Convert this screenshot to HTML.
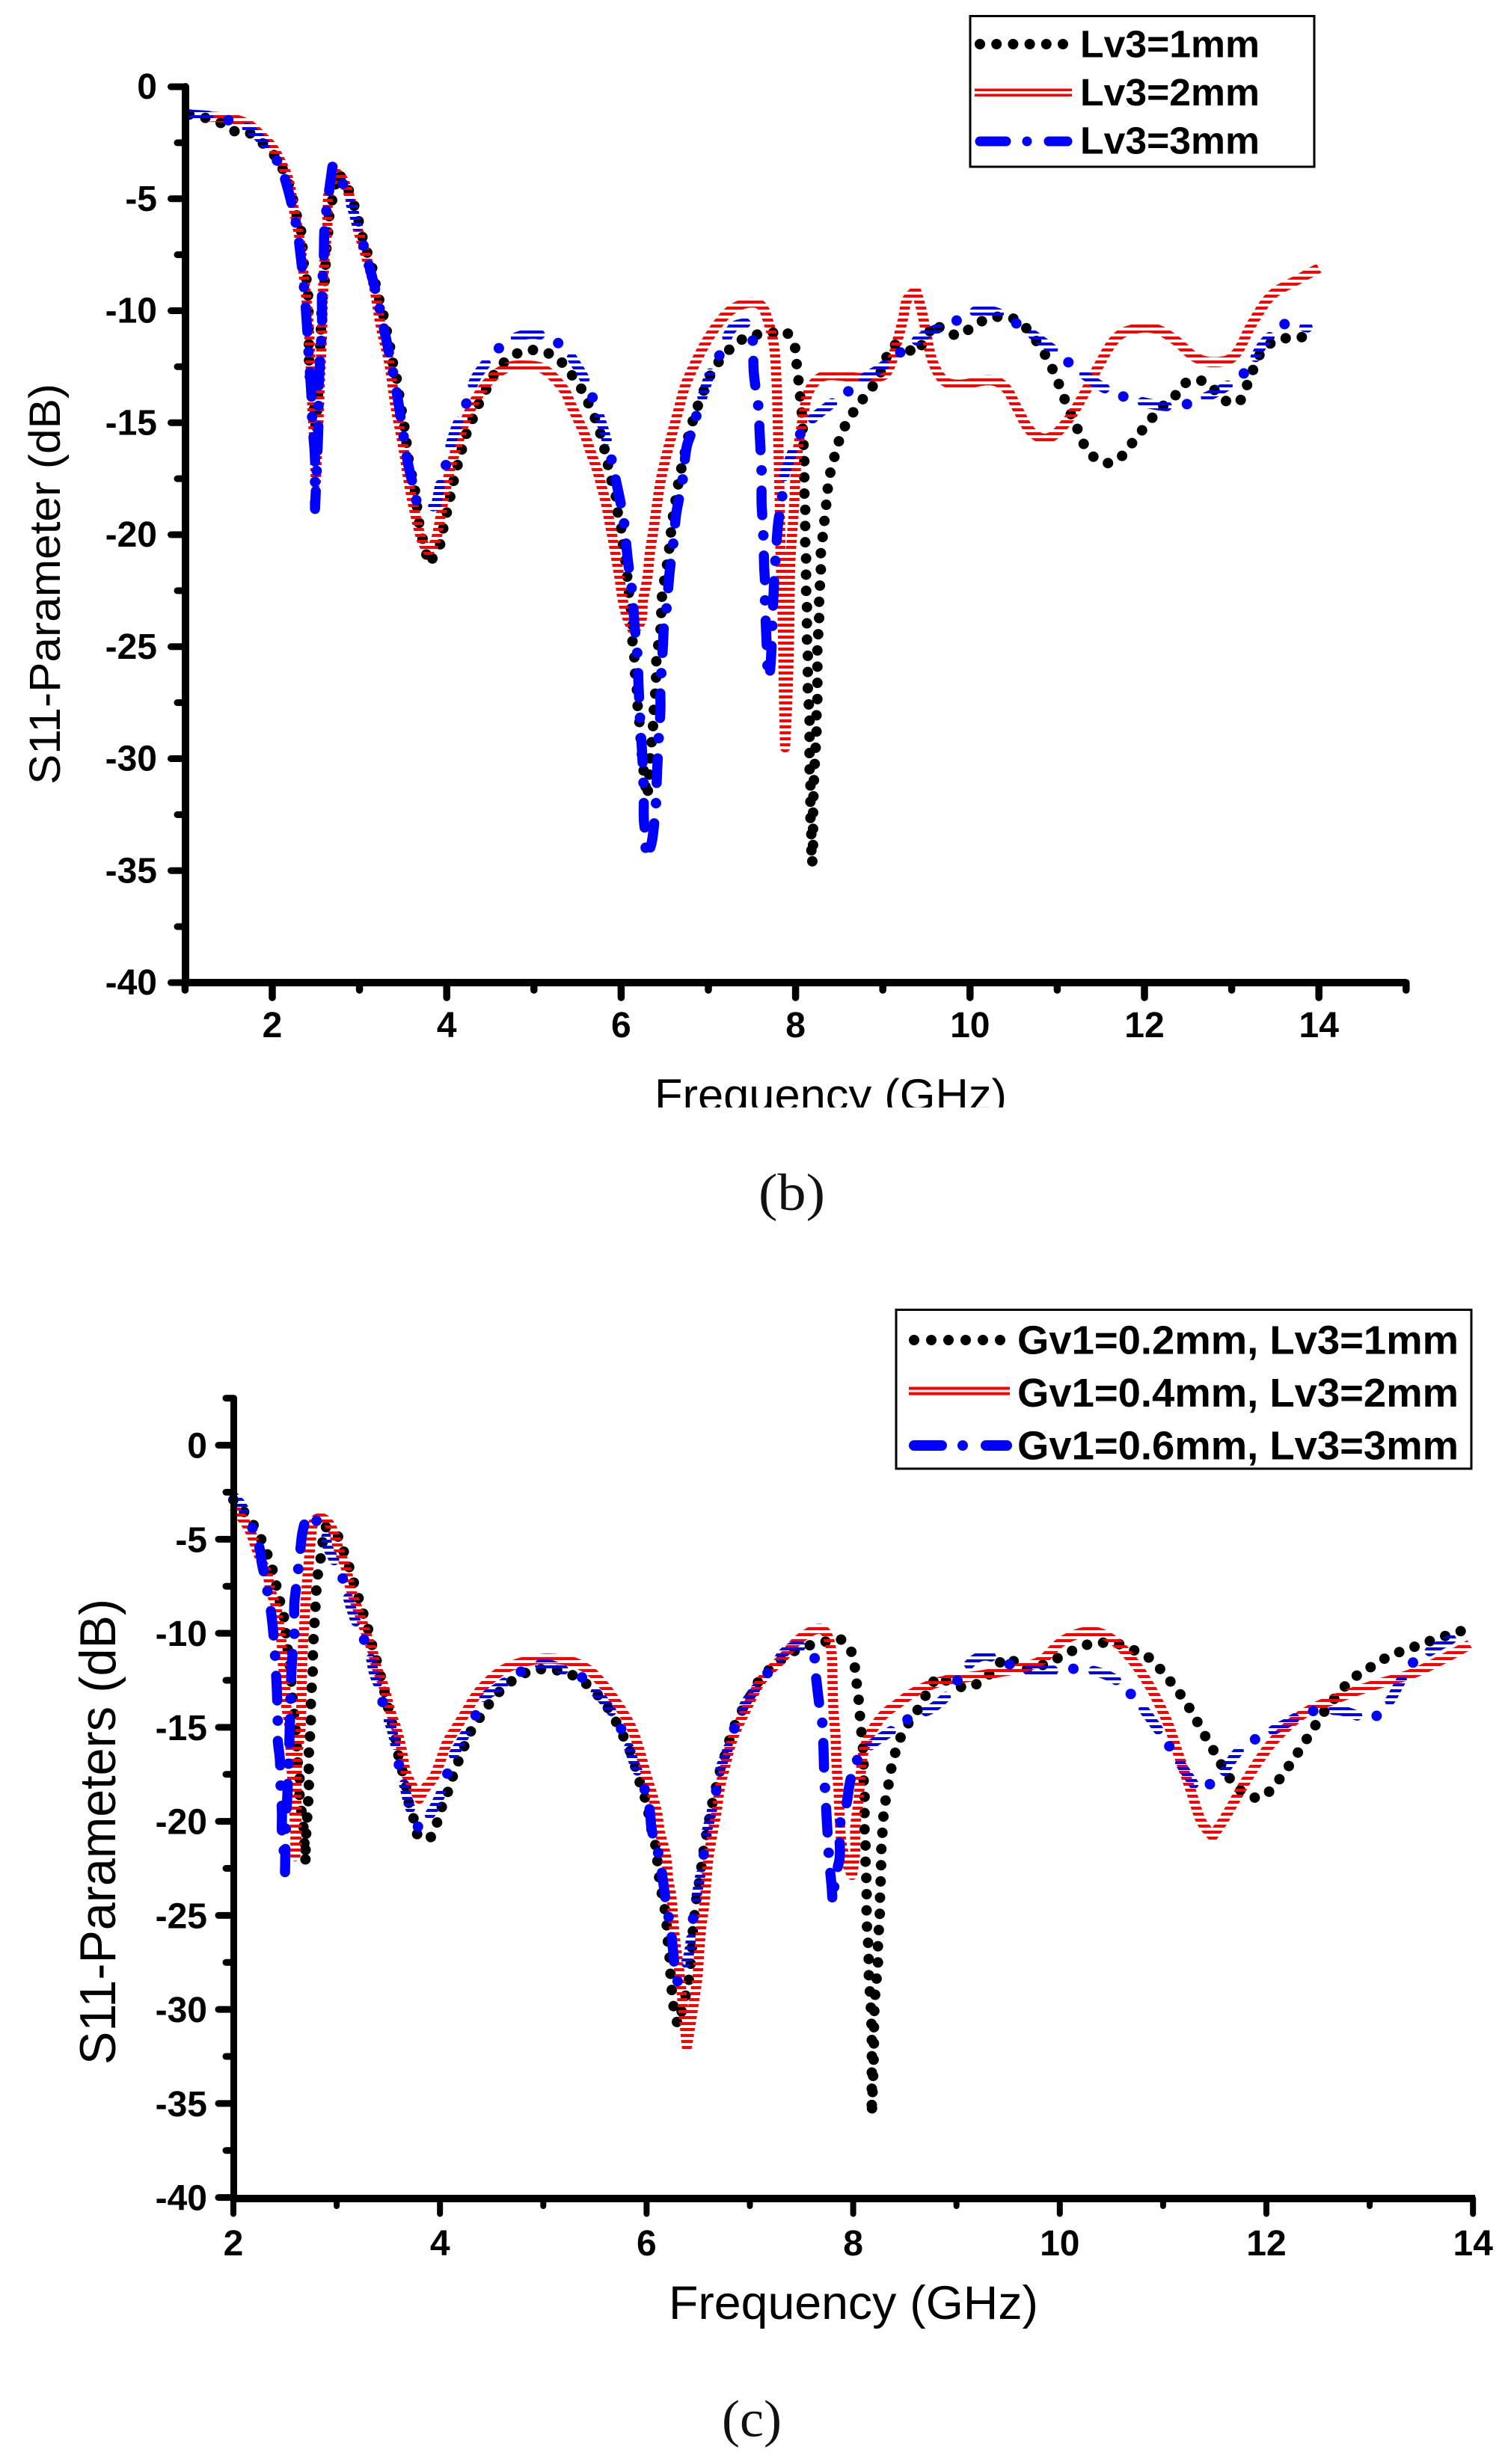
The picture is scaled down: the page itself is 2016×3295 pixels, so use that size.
<!DOCTYPE html>
<html lang="en">
<head>
<meta charset="utf-8">
<title>S11 parameter charts</title>
<style>
html,body{margin:0;padding:0;background:#fff}
svg{display:block}
text{font-family:"Liberation Sans",sans-serif;fill:#000}
.tick-label{font-weight:700;font-size:48px}
.legend-label{font-weight:700}
.caption{font-family:"Liberation Serif",serif;fill:#111}
</style>
</head>
<body>
<svg id="figure" xmlns="http://www.w3.org/2000/svg" width="2016" height="3295" viewBox="0 0 2016 3295">
<defs>
<pattern id="redStripesB" patternUnits="userSpaceOnUse" width="16" height="8"><rect x="0" y="2" width="16" height="4" fill="#ff0000" shape-rendering="crispEdges"/></pattern>
<pattern id="blueStripesB" patternUnits="userSpaceOnUse" width="16" height="8"><rect x="0" y="2" width="16" height="4" fill="#0000ff" shape-rendering="crispEdges"/></pattern>
<pattern id="redStripesC" patternUnits="userSpaceOnUse" width="16" height="8"><rect x="0" y="0" width="16" height="4" fill="#ff0000" shape-rendering="crispEdges"/></pattern>
<pattern id="blueStripesC" patternUnits="userSpaceOnUse" width="16" height="8"><rect x="0" y="3" width="16" height="4" fill="#0000ff" shape-rendering="crispEdges"/></pattern>
<clipPath id="clipFreqB"><rect x="800" y="1400" width="700" height="81"/></clipPath>
</defs>
<g id="chartB"></g>
<g id="chartC"></g>

<text transform="translate(80,781) rotate(-90)" text-anchor="middle" font-size="58" textLength="536" lengthAdjust="spacingAndGlyphs">S11-Parameter (dB)</text>
<g clip-path="url(#clipFreqB)">
<text x="875" y="1485" font-size="60" textLength="471" lengthAdjust="spacingAndGlyphs">Frequency (GHz)</text>
</g>
<text class="caption" x="1014" y="1618" font-size="70" textLength="89" lengthAdjust="spacingAndGlyphs">(b)</text>

<g>
<rect x="1297" y="21.5" width="460" height="201.5" fill="#fff" stroke="#000" stroke-width="3"/>
<line x1="1310" y1="59" x2="1422" y2="59" stroke="#000" stroke-width="14" stroke-linecap="round" stroke-dasharray="0.01 22.19"/>
<rect x="1303" y="118.5" width="130" height="3.5" fill="#f00"/>
<rect x="1303" y="125.5" width="130" height="3.5" fill="#f00"/>
<line x1="1310" y1="189" x2="1345" y2="189" stroke="#00f" stroke-width="13" stroke-linecap="round"/>
<circle cx="1373" cy="189" r="6.5" fill="#00f"/>
<line x1="1402" y1="189" x2="1427" y2="189" stroke="#00f" stroke-width="13" stroke-linecap="round"/>
<text class="legend-label" x="1444" y="76.5" font-size="51" textLength="240" lengthAdjust="spacingAndGlyphs">Lv3=1mm</text>
<text class="legend-label" x="1444" y="141" font-size="51" textLength="240" lengthAdjust="spacingAndGlyphs">Lv3=2mm</text>
<text class="legend-label" x="1444" y="205.5" font-size="51" textLength="240" lengthAdjust="spacingAndGlyphs">Lv3=3mm</text>
</g>

<text transform="translate(154,2449.5) rotate(-90)" text-anchor="middle" font-size="68" textLength="623" lengthAdjust="spacingAndGlyphs">S11-Parameters (dB)</text>
<text x="894" y="3101" font-size="63" textLength="494" lengthAdjust="spacingAndGlyphs">Frequency (GHz)</text>
<text class="caption" x="965" y="3258" font-size="70" textLength="80" lengthAdjust="spacingAndGlyphs">(c)</text>

<g>
<rect x="1198" y="1751.5" width="769" height="212.5" fill="#fff" stroke="#000" stroke-width="3"/>
<line x1="1222" y1="1792" x2="1338" y2="1792" stroke="#000" stroke-width="14" stroke-linecap="round" stroke-dasharray="0.01 22.99"/>
<rect x="1215" y="1854.6" width="135" height="4" fill="#f00"/>
<rect x="1215" y="1861.7" width="135" height="4" fill="#f00"/>
<line x1="1222" y1="1933" x2="1259" y2="1933" stroke="#00f" stroke-width="14" stroke-linecap="round"/>
<circle cx="1287" cy="1933" r="7" fill="#00f"/>
<line x1="1318" y1="1933" x2="1346" y2="1933" stroke="#00f" stroke-width="14" stroke-linecap="round"/>
<text class="legend-label" x="1360" y="1810.7" font-size="54" textLength="590" lengthAdjust="spacingAndGlyphs">Gv1=0.2mm, Lv3=1mm</text>
<text class="legend-label" x="1360" y="1881" font-size="54" textLength="590" lengthAdjust="spacingAndGlyphs">Gv1=0.4mm, Lv3=2mm</text>
<text class="legend-label" x="1360" y="1951.5" font-size="54" textLength="590" lengthAdjust="spacingAndGlyphs">Gv1=0.6mm, Lv3=3mm</text>
</g>
</svg>

<script>
// Chart (b) tick labels
const xTicksB = [2,4,6,8,10,12,14];
const xMinorTicksB = [1,3,5,7,9,11,13,15];
const yTicksB = [0,-5,-10,-15,-20,-25,-30,-35,-40];
const yMinorTicksB = [-2.5,-7.5,-12.5,-17.5,-22.5,-27.5,-32.5,-37.5];

// Chart (b) series: [frequency GHz, S11 dB]
const lv3_1mm = [[1.05,-1.24],[1.37,-1.54],[1.55,-1.97],[1.73,-2.04],[2.01,-3.0],[2.11,-3.6],[2.2,-4.47],[2.28,-5.75],[2.33,-6.44],[2.36,-7.88],[2.39,-8.55],[2.41,-9.3],[2.42,-11.46],[2.43,-12.9],[2.49,-14.7],[2.5,-15.5],[2.53,-13.3],[2.55,-11.6],[2.57,-9.75],[2.6,-8.7],[2.61,-8],[2.62,-7.25],[2.64,-6.5],[2.65,-5.84],[2.75,-3.85],[2.84,-4.3],[2.91,-5],[2.97,-5.67],[3.01,-6.35],[3.06,-7.08],[3.12,-7.75],[3.17,-8.48],[3.2,-9.2],[3.26,-9.9],[3.29,-10.6],[3.34,-11.3],[3.36,-12],[3.41,-12.7],[3.44,-13.4],[3.47,-14.15],[3.5,-14.86],[3.53,-15.55],[3.55,-16.3],[3.58,-17],[3.62,-17.7],[3.65,-18.4],[3.67,-19.15],[3.7,-19.8],[3.75,-20.6],[3.79,-21.3],[3.91,-20.6],[3.95,-19.9],[3.99,-19.2],[4.03,-18.5],[4.07,-17.76],[4.11,-17.1],[4.16,-16.4],[4.21,-15.66],[4.28,-15],[4.35,-14.3],[4.43,-13.7],[4.51,-13.05],[4.61,-12.5],[4.76,-12],[4.95,-11.76],[5.13,-11.85],[5.29,-12.2],[5.42,-12.8],[5.53,-13.4],[5.62,-14.1],[5.7,-14.8],[5.76,-15.46],[5.81,-16.2],[5.85,-16.9],[5.89,-17.6],[5.94,-18.3],[5.96,-19],[6,-19.7],[6.02,-20.4],[6.05,-21.2],[6.07,-21.9],[6.09,-22.6],[6.13,-24],[6.13,-24.8],[6.15,-25.4],[6.16,-26.2],[6.18,-26.9],[6.19,-27.7],[6.21,-28.4],[6.24,-29.9],[6.28,-31.25],[6.3,-31.7],[6.32,-30.8],[6.34,-29.6],[6.36,-28.9],[6.37,-28.2],[6.38,-27.5],[6.4,-26.7],[6.4,-26],[6.41,-25.3],[6.44,-24.6],[6.46,-23.8],[6.46,-23.1],[6.48,-22.4],[6.51,-21.7],[6.54,-21],[6.56,-20.3],[6.58,-19.6],[6.61,-18.8],[6.64,-18.1],[6.67,-17.4],[6.71,-16.7],[6.75,-16],[6.79,-15.3],[6.85,-14.6],[6.91,-13.9],[6.98,-13.3],[7.05,-12.65],[7.17,-12.05],[7.32,-11.45],[7.5,-11.1],[7.69,-11.05],[7.87,-10.9],[7.99,-11.6],[8.01,-12.3],[8.03,-13],[8.05,-13.75],[8.07,-14.5],[8.08,-15.2],[8.09,-15.9],[8.1,-16.7],[8.1,-17.4],[8.1,-18.1],[8.11,-18.8],[8.11,-19.6],[8.11,-20.3],[8.12,-21],[8.12,-21.7],[8.12,-22.4],[8.13,-23.2],[8.13,-23.9],[8.13,-24.6],[8.14,-25.3],[8.14,-26.1],[8.14,-26.8],[8.15,-27.5],[8.16,-28.2],[8.16,-28.9],[8.16,-29.65],[8.16,-30.4],[8.17,-31.1],[8.17,-31.8],[8.17,-32.6],[8.18,-33.3],[8.18,-34],[8.19,-34.7],[8.2,-33.85],[8.2,-32.5],[8.21,-31],[8.23,-29.5],[8.24,-28.8],[8.24,-28],[8.25,-27.3],[8.25,-26.6],[8.25,-25.9],[8.25,-25.1],[8.26,-24.4],[8.27,-23.7],[8.27,-23],[8.28,-22.2],[8.29,-21.5],[8.29,-20.8],[8.31,-20.1],[8.33,-19.4],[8.35,-18.7],[8.37,-17.9],[8.4,-17.2],[8.44,-16.6],[8.49,-15.9],[8.56,-15.2],[8.65,-14.6],[8.76,-14],[8.88,-13.4],[8.97,-12.8],[9.04,-12.1],[9.11,-11.55],[9.24,-11.65],[9.38,-11.9],[9.5,-11.2],[9.58,-10.55],[9.72,-10.9],[9.88,-11.1],[10.03,-10.7],[10.21,-10.35],[10.4,-10.27],[10.57,-10.5],[10.71,-11.1],[10.82,-11.7],[10.92,-12.4],[11,-13.1],[11.06,-13.7],[11.13,-14.4],[11.21,-15.06],[11.28,-15.76],[11.38,-16.4],[11.56,-16.8],[11.71,-16.6],[11.84,-16],[11.96,-15.4],[12.07,-14.87],[12.2,-14.3],[12.34,-13.85],[12.46,-13.25],[12.63,-13.1],[12.78,-13.45],[12.9,-13.96],[13.07,-14.1],[13.16,-13.46],[13.23,-12.8],[13.29,-12.2],[13.39,-11.6],[13.59,-11.25],[13.78,-11.2],[13.95,-11]];
const lv3_2mm = [[1.05,-1.29],[1.5,-1.4],[1.72,-1.67],[1.86,-2.13],[2.0,-2.69],[2.1,-3.37],[2.19,-4.2],[2.24,-5.33],[2.31,-6.7],[2.35,-8.05],[2.39,-9.4],[2.42,-10.8],[2.44,-12.5],[2.46,-14.35],[2.48,-15.7],[2.5,-17.7],[2.51,-16.6],[2.53,-14.9],[2.55,-12.8],[2.57,-11.1],[2.58,-9.4],[2.6,-7.7],[2.63,-6.35],[2.65,-4.64],[2.74,-3.87],[2.81,-4.14],[2.9,-5.07],[2.98,-6.35],[3.06,-7.37],[3.16,-8.8],[3.25,-10.8],[3.34,-12.3],[3.41,-14.2],[3.5,-16.05],[3.57,-17.76],[3.64,-19.1],[3.72,-20.3],[3.79,-20.75],[3.87,-20.3],[3.94,-18.96],[4.02,-17.4],[4.13,-15.9],[4.26,-14.5],[4.46,-13.25],[4.68,-12.56],[4.89,-12.45],[5.11,-12.6],[5.34,-13.5],[5.42,-14.16],[5.51,-14.9],[5.58,-15.5],[5.65,-16.3],[5.72,-17.05],[5.78,-17.9],[5.83,-18.66],[5.87,-19.5],[5.91,-20.3],[5.95,-21.2],[5.98,-21.9],[6.02,-22.95],[6.07,-23.7],[6.14,-24.3],[6.23,-23.84],[6.25,-22.96],[6.3,-21.95],[6.33,-20.8],[6.37,-19.8],[6.41,-18.7],[6.45,-17.66],[6.51,-16.6],[6.58,-15.56],[6.66,-14.4],[6.73,-13.4],[6.83,-12.5],[6.96,-11.5],[7.09,-10.7],[7.25,-10],[7.45,-9.65],[7.6,-9.75],[7.68,-10.4],[7.75,-11.5],[7.78,-13],[7.8,-15.6],[7.82,-18.9],[7.83,-21.17],[7.85,-23.4],[7.86,-25.6],[7.87,-27.85],[7.88,-29.5],[7.9,-27.85],[7.92,-25.6],[7.93,-23.4],[7.94,-21.2],[7.98,-18.9],[8.01,-16.7],[8.05,-15.6],[8.1,-14.4],[8.14,-13.7],[8.23,-13.15],[8.34,-12.9],[8.51,-12.9],[8.74,-13],[9,-12.9],[9.08,-12.5],[9.15,-11.6],[9.23,-10.4],[9.28,-9.5],[9.38,-9.1],[9.44,-9.9],[9.5,-11.05],[9.57,-12.25],[9.71,-13.15],[9.9,-13.3],[10.23,-13.1],[10.4,-13.4],[10.54,-14.35],[10.7,-15.4],[10.89,-15.7],[11.1,-15],[11.29,-13.85],[11.47,-12.5],[11.68,-11.2],[11.9,-10.8],[12.12,-10.8],[12.35,-11.3],[12.57,-12.05],[12.78,-12.3],[13.02,-12.05],[13.23,-10.6],[13.46,-9.3],[13.74,-8.65],[14,-8.1]];
const lv3_3mm = [[1.04,-1.24],[1.31,-1.32],[1.5,-1.5],[1.72,-1.84],[1.89,-2.43],[2.07,-3.4],[2.16,-4.3],[2.28,-6.26],[2.33,-7.7],[2.37,-9.2],[2.4,-10.8],[2.42,-12.1],[2.45,-13.85],[2.46,-15],[2.49,-16.6],[2.49,-18],[2.49,-18.85],[2.53,-15],[2.53,-13.7],[2.55,-12.1],[2.57,-10.6],[2.57,-9.2],[2.59,-7.7],[2.6,-6.26],[2.64,-5],[2.69,-3.57],[2.75,-3.85],[2.87,-4.9],[2.99,-6.35],[3.09,-7.7],[3.19,-9.2],[3.28,-10.8],[3.35,-12.1],[3.42,-13.5],[3.48,-14.95],[3.55,-16.7],[3.62,-17.85],[3.69,-18.7],[3.88,-18.7],[3.92,-17.85],[3.99,-16.9],[4.05,-15.9],[4.13,-15],[4.24,-14],[4.32,-13.1],[4.43,-12.45],[4.62,-11.6],[4.86,-11.1],[5.08,-11.08],[5.33,-11.6],[5.5,-12.5],[5.6,-13.2],[5.74,-14.6],[5.85,-16],[5.93,-17.4],[6.01,-18.9],[6.04,-19.7],[6.07,-20.9],[6.1,-21.84],[6.13,-22.7],[6.15,-23.84],[6.17,-24.7],[6.19,-25.6],[6.2,-26.8],[6.21,-27.6],[6.22,-28.5],[6.24,-29.7],[6.25,-30.6],[6.26,-31.45],[6.26,-32.7],[6.28,-33.5],[6.28,-34.4],[6.31,-34.2],[6.35,-33.75],[6.38,-32.85],[6.4,-31.95],[6.41,-30.75],[6.42,-29.95],[6.43,-29.1],[6.45,-27.85],[6.45,-27],[6.46,-26.2],[6.48,-24.9],[6.49,-24.1],[6.52,-23.3],[6.55,-21.9],[6.57,-21.2],[6.6,-20.3],[6.63,-19.1],[6.67,-18.27],[6.71,-17.4],[6.75,-16.1],[6.81,-15.4],[6.87,-14.6],[6.96,-13.5],[7.04,-12.6],[7.14,-11.9],[7.28,-10.75],[7.44,-10.55],[7.5,-11],[7.52,-12.7],[7.54,-13.4],[7.57,-14.16],[7.59,-15.6],[7.6,-16.35],[7.61,-17.1],[7.61,-18.57],[7.62,-19.27],[7.63,-20],[7.64,-21.45],[7.65,-22.2],[7.65,-23],[7.67,-25.06],[7.68,-25.95],[7.7,-26.4],[7.72,-25.4],[7.73,-24.4],[7.75,-22.4],[7.77,-21.07],[7.8,-19.5],[7.84,-18.5],[7.87,-17.4],[7.93,-16.66],[8.01,-15.9],[8.07,-15.4],[8.17,-14.9],[8.33,-14.4],[8.53,-13.8],[8.64,-13.5],[8.77,-13.05],[8.96,-12.6],[9.14,-12.05],[9.32,-11.5],[9.4,-11.3],[9.57,-10.9],[9.9,-10.35],[10.09,-10.0],[10.32,-10.1],[10.62,-10.8],[10.94,-11.7],[11.24,-12.65],[11.56,-13.5],[11.9,-14],[12.31,-14.27],[12.62,-14],[12.99,-13.25],[13.2,-12.55],[13.34,-11.6],[13.48,-11],[13.6,-10.6],[13.87,-10.75]];

// Chart (c) tick labels
const xTicksC = [2,4,6,8,10,12,14];
const xMinorTicksC = [3,5,7,9,11,13];
const yTicksC = [0,-5,-10,-15,-20,-25,-30,-35,-40];
const yMinorTicksC = [2.5,-2.5,-7.5,-12.5,-17.5,-22.5,-27.5,-32.5,-37.5];

// Chart (c) series: [frequency GHz, S11 dB]
const gv1_02 = [[2,-2.9],[2.14,-3.8],[2.24,-4.67],[2.31,-5.54],[2.37,-6.46],[2.41,-7.34],[2.45,-8.29],[2.49,-9.16],[2.51,-10.1],[2.53,-11.03],[2.55,-11.94],[2.58,-13.9],[2.6,-14.8],[2.61,-15.7],[2.62,-16.7],[2.64,-17.67],[2.64,-18.6],[2.66,-19.5],[2.68,-20.4],[2.69,-21.4],[2.7,-22.2],[2.7,-21.2],[2.72,-19.3],[2.73,-18.4],[2.73,-17.5],[2.73,-16.5],[2.74,-15.6],[2.75,-14.6],[2.75,-13.7],[2.76,-12.7],[2.77,-11.8],[2.77,-10.9],[2.78,-9.96],[2.79,-9],[2.8,-8.05],[2.81,-7.13],[2.84,-6.2],[2.86,-5.3],[2.89,-4.35],[2.98,-4.55],[3.05,-5.4],[3.11,-6.3],[3.16,-7.2],[3.21,-8.1],[3.26,-9],[3.31,-9.9],[3.35,-10.8],[3.4,-11.7],[3.44,-12.6],[3.48,-13.5],[3.52,-14.45],[3.56,-15.3],[3.59,-16.3],[3.63,-17.2],[3.67,-18.1],[3.7,-19.06],[3.75,-19.95],[3.8,-20.85],[3.92,-20.8],[3.98,-19.9],[4.03,-19.03],[4.1,-18.1],[4.14,-17.3],[4.21,-16.4],[4.27,-15.5],[4.36,-14.7],[4.45,-13.95],[4.55,-13.25],[4.68,-12.6],[4.83,-12.1],[5.0,-11.9],[5.16,-12],[5.31,-12.3],[5.44,-12.8],[5.56,-13.5],[5.66,-14.25],[5.74,-15.1],[5.82,-16],[5.88,-16.9],[5.92,-17.7],[5.98,-18.66],[6.02,-19.6],[6.05,-20.5],[6.09,-21.4],[6.11,-22.4],[6.13,-23.3],[6.16,-24.2],[6.19,-25.15],[6.2,-26.1],[6.22,-27],[6.23,-28],[6.26,-29.8],[6.3,-30.8],[6.33,-30.3],[6.41,-28.4],[6.44,-26.6],[6.45,-25.7],[6.47,-24.75],[6.49,-23.8],[6.52,-22.9],[6.54,-22],[6.57,-21],[6.6,-20.1],[6.63,-19.2],[6.67,-18.26],[6.71,-17.35],[6.76,-16.46],[6.81,-15.56],[6.87,-14.7],[6.95,-13.85],[7.03,-13.1],[7.11,-12.35],[7.24,-11.7],[7.38,-11.1],[7.54,-10.7],[7.7,-10.5],[7.87,-10.3],[7.99,-11.07],[8.02,-12],[8.04,-12.96],[8.06,-13.9],[8.07,-14.8],[8.09,-15.76],[8.1,-16.7],[8.1,-17.66],[8.11,-18.6],[8.11,-19.5],[8.11,-20.45],[8.12,-21.4],[8.12,-22.4],[8.13,-23.3],[8.13,-24.2],[8.13,-25.2],[8.14,-26.1],[8.15,-27],[8.15,-28],[8.17,-29.8],[8.18,-31.6],[8.18,-34],[8.18,-35.6],[8.2,-32.2],[8.2,-31.2],[8.21,-29.4],[8.24,-27.5],[8.24,-26.5],[8.25,-25.6],[8.26,-24.6],[8.26,-23.7],[8.27,-22.8],[8.27,-21.8],[8.28,-20.9],[8.29,-19.9],[8.31,-19],[8.34,-18.1],[8.37,-17.15],[8.41,-16.3],[8.47,-15.4],[8.55,-14.65],[8.65,-13.85],[8.73,-13],[8.81,-12.3],[8.94,-12.6],[9.1,-12.9],[9.25,-12.5],[9.37,-11.9],[9.49,-11.3],[9.64,-11.87],[9.8,-11.75],[9.95,-11.4],[10.11,-10.96],[10.27,-10.6],[10.45,-10.5],[10.59,-10.6],[10.74,-10.96],[10.89,-11.4],[11,-12.1],[11.12,-12.9],[11.22,-13.67],[11.31,-14.5],[11.39,-15.3],[11.48,-16.15],[11.56,-16.95],[11.65,-17.75],[11.76,-18.4],[11.92,-18.75],[12.05,-18.3],[12.15,-17.57],[12.25,-16.8],[12.35,-15.96],[12.44,-15.2],[12.53,-14.4],[12.63,-13.67],[12.73,-13],[12.85,-12.35],[13.01,-11.8],[13.16,-11.3],[13.31,-10.95],[13.47,-10.65],[13.64,-10.3],[13.8,-10.03],[13.94,-9.77],[14,-9.6]];
const gv1_04 = [[2,-3.3],[2.11,-4.07],[2.17,-4.67],[2.22,-5.46],[2.28,-6.26],[2.33,-6.85],[2.36,-7.73],[2.41,-8.5],[2.44,-9.44],[2.47,-10.7],[2.48,-11.7],[2.5,-12.6],[2.51,-13.8],[2.54,-14.8],[2.55,-15.8],[2.56,-17],[2.58,-18.3],[2.59,-19.5],[2.6,-20.6],[2.6,-21.5],[2.6,-21.85],[2.61,-21.2],[2.61,-19.1],[2.62,-16.5],[2.65,-15.1],[2.66,-13.15],[2.67,-11.15],[2.69,-9.17],[2.71,-7.45],[2.73,-6.26],[2.75,-5.07],[2.78,-4.07],[2.85,-3.87],[2.93,-4.2],[2.98,-4.8],[3.02,-5.54],[3.09,-6.53],[3.13,-7.53],[3.19,-8.5],[3.25,-9.44],[3.31,-10.4],[3.35,-11],[3.38,-11.7],[3.46,-12.9],[3.52,-14.15],[3.58,-15.1],[3.63,-16.2],[3.67,-17.4],[3.72,-18],[3.8,-18.8],[3.85,-18.3],[3.94,-17.66],[4.01,-16.7],[4.07,-15.8],[4.16,-15],[4.25,-14.2],[4.35,-13.3],[4.47,-12.55],[4.61,-11.95],[4.79,-11.55],[5.03,-11.35],[5.27,-11.5],[5.44,-11.95],[5.56,-12.6],[5.66,-13.3],[5.77,-14.2],[5.86,-15.1],[5.93,-16.2],[5.99,-17.4],[6.05,-18.5],[6.1,-19.5],[6.13,-20.6],[6.19,-21.9],[6.21,-23.1],[6.24,-24],[6.26,-25.35],[6.28,-26.5],[6.32,-28.1],[6.39,-32],[6.49,-28.4],[6.51,-26.9],[6.53,-25.6],[6.56,-24.4],[6.58,-23.1],[6.6,-21.9],[6.64,-20.6],[6.68,-19.4],[6.71,-18.2],[6.76,-17.1],[6.81,-16],[6.87,-15.1],[6.95,-14.2],[7.02,-13.4],[7.1,-12.6],[7.2,-11.95],[7.32,-11.3],[7.44,-10.5],[7.56,-10],[7.67,-9.76],[7.74,-10],[7.79,-11],[7.8,-12.6],[7.81,-14.2],[7.83,-15.5],[7.84,-17.1],[7.86,-18.5],[7.87,-19.9],[7.89,-21.25],[7.95,-22.4],[7.99,-22.85],[8.02,-21.6],[8.02,-20.3],[8.05,-19],[8.07,-17.66],[8.1,-16.3],[8.16,-15.4],[8.24,-14.7],[8.32,-14.2],[8.43,-13.75],[8.57,-13.2],[8.77,-12.7],[8.95,-12.46],[9.33,-12.15],[9.79,-11.55],[10.03,-10.4],[10.29,-9.9],[10.5,-10.3],[10.69,-11.35],[10.87,-12.8],[11.04,-14.7],[11.14,-16.3],[11.28,-18.55],[11.37,-20],[11.48,-20.8],[11.6,-19.8],[11.77,-18.15],[11.96,-16.5],[12.14,-15.3],[12.38,-14.2],[12.71,-13.4],[13.04,-12.76],[13.41,-12.15],[13.7,-11.4],[13.97,-10.6]];
const gv1_06 = [[2,-2.72],[2.08,-3.2],[2.18,-4.35],[2.25,-5.4],[2.28,-6.4],[2.31,-7.1],[2.34,-8.1],[2.37,-9.1],[2.4,-10.85],[2.41,-11.9],[2.42,-12.9],[2.43,-14.7],[2.43,-15.7],[2.45,-16.7],[2.46,-18.5],[2.47,-19.5],[2.47,-20.6],[2.49,-21.65],[2.5,-22.7],[2.51,-19.9],[2.52,-18.9],[2.54,-16.1],[2.55,-14.2],[2.56,-12.3],[2.57,-11.3],[2.59,-10.1],[2.59,-8.45],[2.61,-7.45],[2.63,-6.5],[2.65,-5.47],[2.67,-4.6],[2.71,-3.75],[2.8,-4],[2.88,-4.4],[2.91,-5.35],[2.96,-5.94],[3.04,-6.8],[3.09,-7.7],[3.13,-8.5],[3.19,-9.44],[3.27,-10.4],[3.33,-11.3],[3.36,-12.1],[3.42,-13],[3.46,-14.05],[3.52,-14.9],[3.56,-15.7],[3.59,-16.7],[3.64,-17.75],[3.69,-18.9],[3.75,-19.9],[3.8,-20.4],[3.93,-19.4],[4.01,-18.5],[4.06,-17.7],[4.11,-16.7],[4.19,-15.9],[4.29,-14.9],[4.38,-14],[4.43,-13.4],[4.57,-12.86],[4.72,-12.2],[4.86,-11.9],[5.01,-11.63],[5.2,-11.95],[5.39,-12.4],[5.51,-13.15],[5.58,-13.55],[5.7,-14.5],[5.81,-15.8],[5.88,-16.9],[5.97,-18.1],[6.03,-19.4],[6.05,-20.45],[6.12,-21.85],[6.16,-23.2],[6.19,-24.4],[6.23,-25.6],[6.26,-27.05],[6.28,-28.25],[6.3,-28.5],[6.4,-27.25],[6.43,-26.25],[6.45,-25.2],[6.47,-24.4],[6.5,-23.5],[6.55,-21.9],[6.57,-20.85],[6.62,-19.75],[6.67,-18.5],[6.71,-17.3],[6.79,-16.1],[6.86,-14.9],[6.96,-13.7],[7.09,-12.7],[7.22,-11.8],[7.4,-10.75],[7.6,-10.95],[7.63,-11.9],[7.67,-13.7],[7.7,-14.7],[7.71,-15.7],[7.72,-17.5],[7.73,-18.5],[7.74,-19.5],[7.76,-21.4],[7.77,-22.3],[7.79,-23.36],[7.8,-24.3],[7.83,-22.9],[7.87,-21.9],[7.87,-20.2],[7.93,-19.2],[7.97,-17.9],[8.02,-16.9],[8.08,-16.5],[8.18,-15.9],[8.34,-15.3],[8.52,-14.6],[8.63,-14.3],[8.76,-14],[8.91,-13.3],[9.01,-12.5],[9.05,-12.06],[9.25,-11.2],[9.47,-11.55],[9.65,-11.95],[9.88,-12],[10.22,-11.9],[10.52,-12.4],[10.73,-13.5],[10.97,-15.25],[11.14,-16.7],[11.33,-18.3],[11.54,-17.75],[11.63,-17],[11.78,-16],[11.98,-15.4],[12.19,-14.8],[12.39,-14.2],[12.71,-14.1],[13.02,-14.5],[13.18,-13.7],[13.3,-12.55],[13.4,-11.65],[13.65,-10.73],[13.83,-10.2]];

const NS = 'http://www.w3.org/2000/svg';
function mk(parent, tag, attrs) {
  const el = document.createElementNS(NS, tag);
  for (const k in attrs) el.setAttribute(k, attrs[k]);
  parent.appendChild(el);
  return el;
}
// Dense smooth polyline through pixel points (chord-scaled Hermite);
// sharp turns (notch bottoms) stay as corners.
function smooth(pts) {
  const out = [pts[0]];
  const n = pts.length;
  const tan = (i) => {
    const a = pts[Math.max(i - 1, 0)], c = pts[i], b = pts[Math.min(i + 1, n - 1)];
    const ux = c[0] - a[0], uy = c[1] - a[1], vx = b[0] - c[0], vy = b[1] - c[1];
    const lu = Math.hypot(ux, uy), lv = Math.hypot(vx, vy);
    if (lu > 0 && lv > 0 && (ux * vx + uy * vy) / (lu * lv) < 0.2) return [0, 0];
    const dx = b[0] - a[0], dy = b[1] - a[1], d = Math.hypot(dx, dy) || 1;
    return [dx / d, dy / d];
  };
  for (let i = 0; i < n - 1; i++) {
    const p = pts[i], q = pts[i + 1], d = Math.hypot(q[0] - p[0], q[1] - p[1]);
    const t0 = tan(i), t1 = tan(i + 1);
    for (let s = 1; s <= 6; s++) {
      const t = s / 6, t2 = t * t, t3 = t2 * t;
      const h00 = 2 * t3 - 3 * t2 + 1, h10 = t3 - 2 * t2 + t, h01 = -2 * t3 + 3 * t2, h11 = t3 - t2;
      out.push([
        h00 * p[0] + h10 * d * t0[0] + h01 * q[0] + h11 * d * t1[0],
        h00 * p[1] + h10 * d * t0[1] + h01 * q[1] + h11 * d * t1[1]
      ]);
    }
  }
  return out;
}
function toD(line) {
  return line.map((p, i) => (i ? 'L' : 'M') + p[0].toFixed(2) + ' ' + p[1].toFixed(2)).join('');
}
function arcTable(line) {
  const c = [0];
  for (let i = 1; i < line.length; i++) c.push(c[i - 1] + Math.hypot(line[i][0] - line[i - 1][0], line[i][1] - line[i - 1][1]));
  return c;
}
function pointAt(line, c, s) {
  let i = 1;
  while (i < c.length - 1 && c[i] < s) i++;
  const r = (s - c[i - 1]) / ((c[i] - c[i - 1]) || 1);
  return [line[i - 1][0] + (line[i][0] - line[i - 1][0]) * r, line[i - 1][1] + (line[i][1] - line[i - 1][1]) * r];
}
function sliceLine(line, c, a, b) {
  const res = [pointAt(line, c, a)];
  for (let i = 0; i < line.length; i++) if (c[i] > a && c[i] < b) res.push(line[i]);
  res.push(pointAt(line, c, b));
  return res;
}

function drawChart(cfg) {
  const g = document.getElementById(cfg.id);
  const sx = cfg.sx, sy = cfg.sy;
  const ax = cfg.axisX, ay = cfg.axisY;

  // Series
  const blackPts = smooth(cfg.black.map(d => [sx(d[0]), sy(d[1])]));
  const black = mk(g, 'path', { d: toD(blackPts), fill: 'none', stroke: '#000', 'stroke-width': 14, 'stroke-linecap': 'round', 'stroke-dasharray': '0.01 21.69' });
  
  

  const redPts = smooth(cfg.red.map(d => [sx(d[0]), sy(d[1])]));
  const red = mk(g, 'path', { d: toD(redPts), fill: 'none', stroke: 'url(#' + cfg.redPattern + ')', 'stroke-width': 13.5, 'stroke-linejoin': 'round' });
  
  

  const bluePts = smooth(cfg.blue.map(d => [sx(d[0]), sy(d[1])]));
  const arc = arcTable(bluePts);
  const total = arc[arc.length - 1];
  const blueGroup = mk(g, 'g', {});
  
  
  for (let t = cfg.bluePhase; t < total; t += 87) {
    const a = Math.max(t, 0), b = Math.min(t + 33, total);
    if (b > a) {
      const seg = sliceLine(bluePts, arc, a, b);
      const dx = Math.abs(seg[seg.length - 1][0] - seg[0][0]);
      const dy = Math.abs(seg[seg.length - 1][1] - seg[0][1]);
      const solid = dy / (dx || 0.01) >= cfg.solidSlope;
      const dash = mk(blueGroup, 'path', { d: toD(seg), fill: 'none', stroke: solid ? '#0000ff' : 'url(#' + cfg.bluePattern + ')', 'stroke-width': 13.5, 'stroke-linecap': 'round', 'stroke-linejoin': 'round' });
      
      
    }
    if (t + 60 < total) {
      const p = pointAt(bluePts, arc, t + 60);
      const dot = mk(blueGroup, 'circle', { cx: p[0].toFixed(2), cy: p[1].toFixed(2), r: 7, fill: '#0000ff' });
      
      
    }
  }

  // Axes
  const yAxis = mk(g, 'line', { x1: ax, x2: ax, y1: cfg.yTop, y2: ay, stroke: '#000', 'stroke-width': cfg.axisW, 'stroke-linecap': 'round' });
  
  
  const xAxis = mk(g, 'line', { x1: ax - 3, x2: cfg.xRight, y1: ay, y2: ay, stroke: '#000', 'stroke-width': 10 });
  
  

  cfg.yTicks.forEach(v => {
    const y = sy(v);
    const tick = mk(g, 'line', { x1: ax, x2: cfg.yMajorEnd + 4, y1: y, y2: y, stroke: '#000', 'stroke-width': 9, 'stroke-linecap': 'round' });
    
    
    const label = mk(g, 'text', { x: cfg.yLabelX, y: y + cfg.yLabelDy, 'text-anchor': 'end', class: 'tick-label' });
    
    
    label.textContent = v;
  });
  cfg.yMinor.forEach(v => {
    const y = sy(v);
    const tick = mk(g, 'line', { x1: ax, x2: cfg.yMinorEnd + 4, y1: y, y2: y, stroke: '#000', 'stroke-width': 9, 'stroke-linecap': 'round' });
    
    
  });
  cfg.xTicks.forEach(v => {
    const x = sx(v);
    const tick = mk(g, 'line', { x1: x, x2: x, y1: ay, y2: cfg.xMajorEnd - 4, stroke: '#000', 'stroke-width': cfg.xTickW, 'stroke-linecap': 'round' });
    
    
    const label = mk(g, 'text', { x: x, y: cfg.xLabelY, 'text-anchor': 'middle', class: 'tick-label' });
    
    
    label.textContent = v;
  });
  cfg.xMinor.forEach(v => {
    const x = sx(v);
    const tick = mk(g, 'line', { x1: x, x2: x, y1: ay, y2: cfg.xMinorEnd - 4, stroke: '#000', 'stroke-width': cfg.xTickW, 'stroke-linecap': 'round' });
    
    
  });
}

drawChart({
  id: 'chartB',
  sx: v => 364 + (v - 2) * 116.6,
  sy: v => 116 - v * 29.95,
  axisX: 248, axisY: 1314, axisW: 10, yTop: 116, xRight: 1880,
  yMajorEnd: 224.5, yMinorEnd: 233, yLabelX: 210, yLabelDy: 16,
  xMajorEnd: 1338, xMinorEnd: 1328, xLabelY: 1387, xTickW: 9.5,
  xTicks: xTicksB, xMinor: xMinorTicksB, yTicks: yTicksB, yMinor: yMinorTicksB,
  black: lv3_1mm, red: lv3_2mm, blue: lv3_3mm,
  blackName: 'series-lv3-1mm', redName: 'series-lv3-2mm', blueName: 'series-lv3-3mm',
  redPattern: 'redStripesB', bluePattern: 'blueStripesB', bluePhase: -6, solidSlope: 3.7
});
drawChart({
  id: 'chartC',
  sx: v => 312 + (v - 2) * 138.1,
  sy: v => 1932.6 - v * 25.15,
  axisX: 312.5, axisY: 2940, axisW: 9, yTop: 1871, xRight: 1972,
  yMajorEnd: 288, yMinorEnd: 298, yLabelX: 277, yLabelDy: 17,
  xMajorEnd: 2964.5, xMinorEnd: 2954, xLabelY: 3016, xTickW: 8,
  xTicks: xTicksC, xMinor: xMinorTicksC, yTicks: yTicksC, yMinor: yMinorTicksC,
  black: gv1_02, red: gv1_04, blue: gv1_06,
  blackName: 'series-gv1-0-2mm', redName: 'series-gv1-0-4mm', blueName: 'series-gv1-0-6mm',
  redPattern: 'redStripesC', bluePattern: 'blueStripesC', bluePhase: -10, solidSlope: 5.5
});
</script>
</body>
</html>
